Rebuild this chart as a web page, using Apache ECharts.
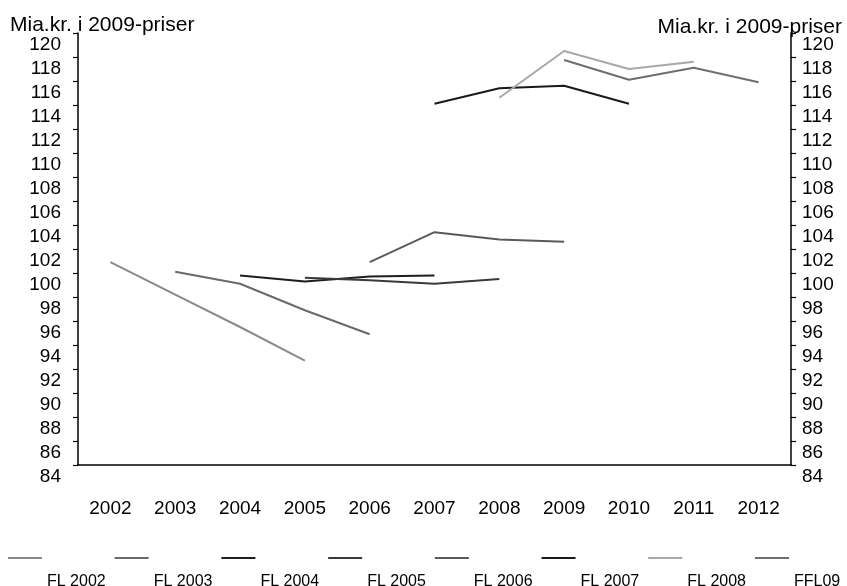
<!DOCTYPE html>
<html>
<head>
<meta charset="utf-8">
<script src="https://cdn.jsdelivr.net/npm/echarts@6/dist/echarts.min.js"></script>
<style>html,body{margin:0;padding:0;background:#fff;}#c{width:847px;height:586px;}</style>
</head>
<body>
<div id="c"></div>
<script>
const years = ['2002','2003','2004','2005','2006','2007','2008','2009','2010','2011','2012'];
const fl2002 = [100.9, 98.2, 95.5, 92.7, null, null, null, null, null, null, null];
const fl2003 = [null, 100.1, 99.1, 96.9, 94.9, null, null, null, null, null, null];
const fl2004 = [null, null, 99.8, 99.3, 99.7, 99.8, null, null, null, null, null];
const fl2005 = [null, null, null, 99.6, 99.4, 99.1, 99.5, null, null, null, null];
const fl2006 = [null, null, null, null, 100.9, 103.4, 102.8, 102.6, null, null, null];
const fl2007 = [null, null, null, null, null, 114.1, 115.4, 115.6, 114.1, null, null];
const fl2008 = [null, null, null, null, null, null, 114.6, 118.5, 117.0, 117.6, null];
const ffl09  = [null, null, null, null, null, null, null, 117.75, 116.1, 117.1, 115.9];
const seriesNames = ['FL 2002','FL 2003','FL 2004','FL 2005','FL 2006','FL 2007','FL 2008','FFL09'];
const seriesData = [fl2002, fl2003, fl2004, fl2005, fl2006, fl2007, fl2008, ffl09];
const seriesColors = ['#8a8a8a','#6a6a6a','#1e1e1e','#3a3a3a','#5a5a5a','#1a1a1a','#a8a8a8','#6e6e6e'];
const axisTitle = 'Mia.kr. i 2009-priser';

const FONT = '"Liberation Sans", Arial, sans-serif';
function yAxisCfg(pos, margin, align) {
  return {
    type: 'value', position: pos, min: 84, max: 120, interval: 2,
    axisLine: {show: true, lineStyle: {color: '#000', width: 1.5}},
    axisTick: {show: true, length: 5, lineStyle: {color: '#000', width: 1.2}},
    splitLine: {show: false},
    axisLabel: {color: '#000', fontSize: 19, fontFamily: FONT, margin: margin,
      verticalAlign: 'top', lineHeight: 24, align: align}
  };
}
const chart = echarts.init(document.getElementById('c'), null, {renderer: 'canvas'});
chart.setOption({
  animation: false,
  backgroundColor: '#fff',
  title: [
    {text: axisTitle, left: 5, top: 10, textStyle: {color: '#000', fontSize: 21, fontWeight: 'normal', fontFamily: FONT}},
    {text: axisTitle, right: 0, top: 12, textStyle: {color: '#000', fontSize: 21, fontWeight: 'normal', fontFamily: FONT}}
  ],
  grid: {left: 78, right: 56, top: 33, bottom: 121, outerBoundsMode: 'none'},
  xAxis: {
    type: 'category', data: years, boundaryGap: true,
    axisLine: {lineStyle: {color: '#000', width: 1.5}},
    axisTick: {length: 5, lineStyle: {color: '#000', width: 1.2}},
    axisLabel: {color: '#000', fontSize: 19, fontFamily: FONT, margin: 34}
  },
  yAxis: [yAxisCfg('left', 17, 'right'), yAxisCfg('right', 11, 'left')],
  legend: {
    left: 8, top: 557, padding: 0, itemGap: 9, itemWidth: 34, itemHeight: 2, icon: 'rect',
    formatter: '{t|{name}}',
    textStyle: {color: '#000', fontSize: 16, fontFamily: FONT,
      rich: {t: {fontSize: 16, fontFamily: FONT, color: '#000', padding: [48, 0, 0, 0]}}},
    data: seriesNames
  },
  series: seriesNames.map((n, i) => ({
    name: n, type: 'line', data: seriesData[i], yAxisIndex: 0,
    symbol: 'none', connectNulls: false,
    lineStyle: {color: seriesColors[i], width: 2},
    itemStyle: {color: seriesColors[i]}
  }))
});
</script>
</body>
</html>
